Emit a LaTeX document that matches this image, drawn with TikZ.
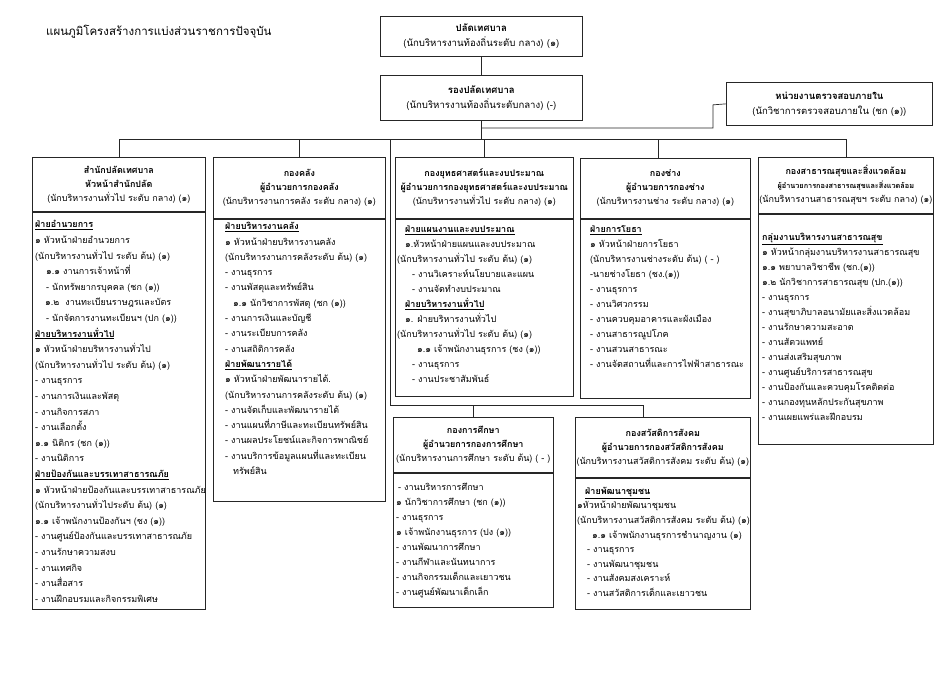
\documentclass[tikz,border=0pt]{standalone}
\usepackage{fontspec}
\setmainfont[Script=Thai]{Loma}
\begin{document}
\begin{tikzpicture}[x=1pt,y=1pt]
\tikzset{
  frame/.style={draw=black!85, line width=0.7pt, inner sep=0pt, anchor=north west, fill=white},
  hdrbox/.style={frame, align=center, inner xsep=0pt, font=\fontsize{9}{14}\selectfont},
  topbox/.style={frame, align=center, inner xsep=0pt, font=\fontsize{9.6}{15}\selectfont},
  bodytxt/.style={align=left, inner sep=0pt, anchor=north west, font=\fontsize{9}{15.2}\selectfont},
  conn/.style={draw=black!85, line width=0.7pt},
}
\useasboundingbox[fill=white] (0,0) rectangle (950,-672);

\node[anchor=west, inner sep=0pt, font=\fontsize{11.5}{14}\selectfont] (title) at (46,-32) {แผนภูมิโครงสร้างการแบ่งส่วนราชการปัจจุบัน};

% top boxes
\node[topbox, text width=202pt, minimum height=40pt] (top) at (380,-16)
  {\textbf{ปลัดเทศบาล}\\(นักบริหารงานท้องถิ่นระดับ กลาง) (๑)};
\node[topbox, text width=202pt, minimum height=45pt] (dep) at (380,-75)
  {\textbf{รองปลัดเทศบาล}\\(นักบริหารงานท้องถิ่นระดับกลาง) (-)};
\node[topbox, text width=206pt, minimum height=43pt, font=\fontsize{9.5}{15}\selectfont] (audit) at (726,-82)
  {\textbf{หน่วยงานตรวจสอบภายใน}\\(นักวิชาการตรวจสอบภายใน (ชก (๑))};

% column 1
\node[hdrbox, text width=173pt, minimum height=54pt] (c1h) at (32,-157)
  {\textbf{สำนักปลัดเทศบาล}\\\textbf{หัวหน้าสำนักปลัด}\\(นักบริหารงานทั่วไป ระดับ กลาง) (๑)};
\node[frame, minimum width=173pt, minimum height=397pt] (c1b) at (c1h.south west) {};
\node[bodytxt, font=\fontsize{9}{15.6}\selectfont] (c1t) at (35,-216.8) {\strut\textbf{\underline{ฝ่ายอำนวยการ}}\\
๑ หัวหน้าฝ่ายอำนวยการ\\
(นักบริหารงานทั่วไป ระดับ ต้น) (๑)\\
\hspace*{11pt}๑.๑ งานการเจ้าหน้าที่\\
\hspace*{11pt}- นักทรัพยากรบุคคล (ชก (๑))\\
\hspace*{10pt}๑.๒\ \ งานทะเบียนราษฎรและบัตร\\
\hspace*{11pt}- นักจัดการงานทะเบียนฯ (ปก (๑))\\
\textbf{\underline{ฝ่ายบริหารงานทั่วไป}}\\
๑ หัวหน้าฝ่ายบริหารงานทั่วไป\\
(นักบริหารงานทั่วไป ระดับ ต้น) (๑)\\
- งานธุรการ\\
- งานการเงินและพัสดุ\\
- งานกิจการสภา\\
- งานเลือกตั้ง\\
๑.๑ นิติกร (ชก (๑))\\
- งานนิติการ\\
\textbf{\underline{ฝ่ายป้องกันและบรรเทาสาธารณภัย}}\\
๑ หัวหน้าฝ่ายป้องกันและบรรเทาสาธารณภัย\\
(นักบริหารงานทั่วไประดับ ต้น) (๑)\\
๑.๑ เจ้าพนักงานป้องกันฯ (ชง (๑))\\
- งานศูนย์ป้องกันและบรรเทาสาธารณภัย\\
- งานรักษาความสงบ\\
- งานเทศกิจ\\
- งานสื่อสาร\\
- งานฝึกอบรมและกิจกรรมพิเศษ};

% column 2
\node[hdrbox, text width=172pt, minimum height=61pt] (c2h) at (213,-157)
  {\textbf{กองคลัง}\\\textbf{ผู้อำนวยการกองคลัง}\\(นักบริหารงานการคลัง ระดับ กลาง) (๑)};
\node[frame, minimum width=172pt, minimum height=282pt] (c2b) at (c2h.south west) {};
\node[bodytxt, font=\fontsize{9}{15.3}\selectfont] (c2t) at (225,-218.8) {\strut\textbf{\underline{ฝ่ายบริหารงานคลัง}}\\
๑ หัวหน้าฝ่ายบริหารงานคลัง\\
(นักบริหารงานการคลังระดับ ต้น) (๑)\\
- งานธุรการ\\
- งานพัสดุและทรัพย์สิน\\
\hspace*{8pt}๑.๑ นักวิชาการพัสดุ (ชก (๑))\\
- งานการเงินและบัญชี\\
- งานระเบียบการคลัง\\
- งานสถิติการคลัง\\
\textbf{\underline{ฝ่ายพัฒนารายได้}}\\
๑ หัวหน้าฝ่ายพัฒนารายได้.\\
(นักบริหารงานการคลังระดับ ต้น) (๑)\\
- งานจัดเก็บและพัฒนารายได้\\
- งานแผนที่ภาษีและทะเบียนทรัพย์สิน\\
- งานผลประโยชน์และกิจการพาณิชย์\\
- งานบริการข้อมูลแผนที่และทะเบียน\\
\hspace*{8pt}ทรัพย์สิน};

% column 3
\node[hdrbox, text width=178pt, minimum height=61pt] (c3h) at (395,-157)
  {\textbf{กองยุทธศาสตร์และงบประมาณ}\\\textbf{ผู้อำนวยการกองยุทธศาสตร์และงบประมาณ}\\(นักบริหารงานทั่วไป ระดับ กลาง) (๑)};
\node[frame, minimum width=178pt, minimum height=177pt] (c3b) at (c3h.south west) {};
\node[bodytxt, font=\fontsize{9}{15}\selectfont] (c3t) at (397,-221.8) {\strut\hspace*{8pt}\textbf{\underline{ฝ่ายแผนงานและงบประมาณ}}\\
\hspace*{8pt}๑.หัวหน้าฝ่ายแผนและงบประมาณ\\
(นักบริหารงานทั่วไป ระดับ ต้น) (๑)\\
\hspace*{15pt}- งานวิเคราะห์นโยบายและแผน\\
\hspace*{15pt}- งานจัดทำงบประมาณ\\
\hspace*{8pt}\textbf{\underline{ฝ่ายบริหารงานทั่วไป}}\\
\hspace*{8pt}๑. ฝ่ายบริหารงานทั่วไป\\
(นักบริหารงานทั่วไป ระดับ ต้น) (๑)\\
\hspace*{20pt}๑.๑ เจ้าพนักงานธุรการ (ชง (๑))\\
\hspace*{15pt}- งานธุรการ\\
\hspace*{15pt}- งานประชาสัมพันธ์};

% column 4
\node[hdrbox, text width=170pt, minimum height=60pt] (c4h) at (580,-158)
  {\textbf{กองช่าง}\\\textbf{ผู้อำนวยการกองช่าง}\\(นักบริหารงานช่าง ระดับ กลาง) (๑)};
\node[frame, minimum width=170pt, minimum height=179pt] (c4b) at (c4h.south west) {};
\node[bodytxt, font=\fontsize{9}{15}\selectfont] (c4t) at (590,-221.8) {\strut\textbf{\underline{ฝ่ายการโยธา}}\\
๑ หัวหน้าฝ่ายการโยธา\\
(นักบริหารงานช่างระดับ ต้น) ( - )\\
-นายช่างโยธา (ชง.(๑))\\
- งานธุรการ\\
- งานวิศวกรรม\\
- งานควบคุมอาคารและผังเมือง\\
- งานสาธารณูปโภค\\
- งานสวนสาธารณะ\\
- งานจัดสถานที่และการไฟฟ้าสาธารณะ};

% column 5
\node[hdrbox, text width=175pt, minimum height=56pt] (c5h) at (758,-157)
  {\textbf{กองสาธารณสุขและสิ่งแวดล้อม}\\{\fontsize{7.3}{12}\selectfont\textbf{ผู้อำนวยการกองสาธารณสุขและสิ่งแวดล้อม}}\\(นักบริหารงานสาธารณสุขฯ ระดับ กลาง) (๑)};
\node[frame, minimum width=175pt, minimum height=230pt] (c5b) at (c5h.south west) {};
\node[bodytxt, font=\fontsize{9}{15}\selectfont] (c5t) at (762,-229.8) {\strut\textbf{\underline{กลุ่มงานบริหารงานสาธารณสุข}}\\
๑ หัวหน้ากลุ่มงานบริหารงานสาธารณสุข\\
๑.๑ พยาบาลวิชาชีพ (ชก.(๑))\\
๑.๒ นักวิชาการสาธารณสุข (ปก.(๑))\\
- งานธุรการ\\
- งานสุขาภิบาลอนามัยและสิ่งแวดล้อม\\
- งานรักษาความสะอาด\\
- งานสัตวแพทย์\\
- งานส่งเสริมสุขภาพ\\
- งานศูนย์บริการสาธารณสุข\\
- งานป้องกันและควบคุมโรคติดต่อ\\
- งานกองทุนหลักประกันสุขภาพ\\
- งานเผยแพร่และฝึกอบรม};

% bottom box 1
\node[hdrbox, text width=160pt, minimum height=55pt] (b1h) at (393,-417)
  {\textbf{กองการศึกษา}\\\textbf{ผู้อำนวยการกองการศึกษา}\\(นักบริหารงานการศึกษา ระดับ ต้น) ( - )};
\node[frame, minimum width=160pt, minimum height=134pt] (b1b) at (b1h.south west) {};
\node[bodytxt, font=\fontsize{9}{15}\selectfont] (b1t) at (396,-479.8) {\strut\hspace*{2pt}- งานบริหารการศึกษา\\
๑ นักวิชาการศึกษา (ชก (๑))\\
- งานธุรการ\\
๑ เจ้าพนักงานธุรการ (ปง (๑))\\
- งานพัฒนาการศึกษา\\
- งานกีฬาและนันทนาการ\\
- งานกิจกรรมเด็กและเยาวชน\\
- งานศูนย์พัฒนาเด็กเล็ก};

% bottom box 2
\node[hdrbox, text width=175pt, minimum height=60pt] (b2h) at (575,-417)
  {\textbf{กองสวัสดิการสังคม}\\\textbf{ผู้อำนวยการกองสวัสดิการสังคม}\\(นักบริหารงานสวัสดิการสังคม ระดับ ต้น) (๑)};
\node[frame, minimum width=175pt, minimum height=131pt] (b2b) at (b2h.south west) {};
\node[bodytxt, font=\fontsize{9}{14.6}\selectfont] (b2t) at (577,-483.8) {\strut\hspace*{8pt}\textbf{\underline{ฝ่ายพัฒนาชุมชน}}\\
๑หัวหน้าฝ่ายพัฒนาชุมชน\\
(นักบริหารงานสวัสดิการสังคม ระดับ ต้น) (๑)\\
\hspace*{15pt}๑.๑ เจ้าพนักงานธุรการชำนาญงาน (๑)\\
\hspace*{10pt}- งานธุรการ\\
\hspace*{10pt}- งานพัฒนาชุมชน\\
\hspace*{10pt}- งานสังคมสงเคราะห์\\
\hspace*{10pt}- งานสวัสดิการเด็กและเยาวชน};

% connectors
\coordinate (bar) at (0,-139);
\coordinate (subbar) at (0,-405);
\coordinate (auditbend) at (713,-128);
\coordinate (subtop) at (390,-139);
\coordinate (b2in) at (643,-417);
\coordinate (c4in) at (658,-158);
\draw[conn] (top.south) -- (dep.north);
\draw[conn] (dep.south) -- (dep.south |- auditbend) -| ([yshift=-1pt]auditbend |- audit.west) -- (audit.west);
\draw[conn] (dep.south) -- (dep.south |- bar);
\draw[conn] (c1h.north) -- (c1h.north |- bar) -| (c5h.north);
\draw[conn] (c2h.north) -- (c2h.north |- bar);
\draw[conn] (c3h.north) -- (c3h.north |- bar);
\draw[conn] (c4in) -- (c4in |- bar);
\draw[conn] (subtop) |- (b2in |- subbar) -- (b2in);
\draw[conn] (b1h.north) -- (b1h.north |- subbar);
\end{tikzpicture}
\end{document}
